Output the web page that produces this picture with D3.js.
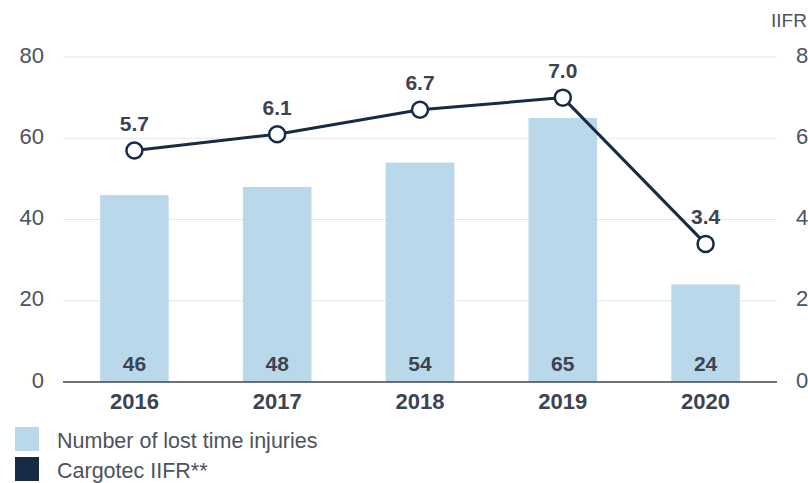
<!DOCTYPE html>
<html><head><meta charset="utf-8">
<script src="https://cdn.jsdelivr.net/npm/d3@7"></script>
<style>
html,body{margin:0;padding:0;background:#fff;overflow:hidden;}
svg{display:block;font-family:"Liberation Sans",Arial,Helvetica,sans-serif;}
</style></head>
<body>
<svg id="chart" width="808" height="483"></svg>
<script>
const years = ["2016","2017","2018","2019","2020"];
const injuries = [46, 48, 54, 65, 24];
const iifr = [5.7, 6.1, 6.7, 7.0, 3.4];
const leftTicks = [0, 20, 40, 60, 80];
const rightTicks = [0, 2, 4, 6, 8];
const legendLabels = ["Number of lost time injuries", "Cargotec IIFR**"];

const svg = d3.select("#chart");
const mLeft = 63, mRight = 777, mTop = 57, mBottom = 382;
const barColor = "#b9d8ea", navy = "#172b45", textCol = "#3c4452", axisText = "#4d5260";

const x = d3.scaleBand().domain(years).range([mLeft, mRight]).padding(0);
const yL = d3.scaleLinear().domain([0, 80]).range([mBottom, mTop]);
const yR = d3.scaleLinear().domain([0, 8]).range([mBottom, mTop]);
const barW = x.bandwidth() * 0.48;

// grid lines
svg.append("g").selectAll("line").data(leftTicks.filter(d => d > 0)).join("line")
  .attr("x1", mLeft).attr("x2", mRight)
  .attr("y1", d => yL(d)).attr("y2", d => yL(d))
  .attr("stroke", "#e3e6e8").attr("stroke-width", 1);

// left tick labels
svg.append("g").selectAll("text").data(leftTicks).join("text")
  .attr("x", 44).attr("y", d => yL(d) - 2).attr("dy", "0.35em")
  .attr("text-anchor", "end").attr("font-size", 22).attr("fill", axisText)
  .text(d => d);

// right tick labels
svg.append("g").selectAll("text").data(rightTicks).join("text")
  .attr("x", 796).attr("y", d => yR(d) - 2).attr("dy", "0.35em")
  .attr("text-anchor", "start").attr("font-size", 22).attr("fill", axisText)
  .text(d => d);
svg.append("text").attr("x", 771).attr("y", 20).attr("dy", "0.35em")
  .attr("font-size", 19).attr("fill", axisText).text("IIFR");

// bars
svg.append("g").selectAll("rect").data(injuries).join("rect")
  .attr("x", (d, i) => x(years[i]) + x.bandwidth() / 2 - barW / 2)
  .attr("width", barW)
  .attr("y", d => yL(d)).attr("height", d => yL(0) - yL(d))
  .attr("fill", barColor);

// bar value labels
svg.append("g").selectAll("text").data(injuries).join("text")
  .attr("x", (d, i) => x(years[i]) + x.bandwidth() / 2)
  .attr("y", 364).attr("dy", "0.35em")
  .attr("text-anchor", "middle").attr("font-size", 21).attr("font-weight", "bold")
  .attr("fill", textCol).text(d => d);

// baseline
svg.append("line").attr("x1", mLeft).attr("x2", mRight)
  .attr("y1", mBottom).attr("y2", mBottom)
  .attr("stroke", "#3c4452").attr("stroke-width", 1.5);

// year labels
svg.append("g").selectAll("text").data(years).join("text")
  .attr("x", d => x(d) + x.bandwidth() / 2).attr("y", 401).attr("dy", "0.35em")
  .attr("text-anchor", "middle").attr("font-size", 22).attr("font-weight", "bold")
  .attr("fill", textCol).text(d => d);

// line
const line = d3.line().x((d, i) => x(years[i]) + x.bandwidth() / 2).y(d => yR(d));
svg.append("path").datum(iifr).attr("d", line)
  .attr("fill", "none").attr("stroke", navy).attr("stroke-width", 3);
svg.append("g").selectAll("circle").data(iifr).join("circle")
  .attr("cx", (d, i) => x(years[i]) + x.bandwidth() / 2).attr("cy", d => yR(d))
  .attr("r", 8).attr("fill", "#fff").attr("stroke", navy).attr("stroke-width", 2.5);
svg.append("g").selectAll("text").data(iifr).join("text")
  .attr("x", (d, i) => x(years[i]) + x.bandwidth() / 2).attr("y", d => yR(d) - 27).attr("dy", "0.35em")
  .attr("text-anchor", "middle").attr("font-size", 21).attr("font-weight", "bold")
  .attr("fill", textCol).text(d => d.toFixed(1));

// legend
const legColors = [barColor, navy];
const leg = svg.append("g").selectAll("g").data(legendLabels).join("g")
  .attr("transform", (d, i) => `translate(15,${427 + i * 30})`);
leg.append("rect").attr("width", 24).attr("height", 24).attr("fill", (d, i) => legColors[i]);
leg.append("text").attr("x", 42).attr("y", 13).attr("dy", "0.35em")
  .attr("font-size", 21.5).attr("fill", axisText).text(d => d);
</script>
</body></html>
